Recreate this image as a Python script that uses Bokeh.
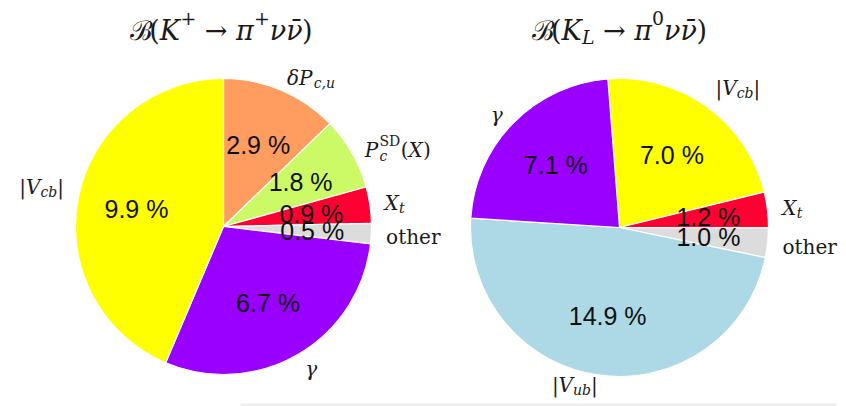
import math

from bokeh.core.properties import value
from bokeh.embed import file_html
from bokeh.models import Range1d
from bokeh.plotting import figure
from bokeh.resources import INLINE

# Error budget of the two rare kaon branching ratios (contributions in %)
kp_keys = ["dPcu", "PcSD", "Xt", "other", "gamma", "Vcb"]
kp_values = [2.9, 1.8, 0.9, 0.5, 6.7, 9.9]
kp_colors = ["#FF9C5F", "#CCFA66", "#FF0033", "#DCDCDC", "#9900FF", "#FFFF00"]

kl_keys = ["Vcb", "Xt", "other", "Vub", "gamma"]
kl_values = [7.0, 1.2, 1.0, 14.9, 7.1]
kl_colors = ["#FFFF00", "#FF0033", "#DCDCDC", "#ADD8E6", "#9900FF"]

W, H = 846, 406
SERIF = "DejaVu Serif"
SANS = "Liberation Sans"
IT, UP = "italic", "normal"
NB = "\u00a0"

# label pieces: (text, style, scale, baseline shift in em, advances)
LABEL_RUNS = {
    "dPcu": [("δ", IT, 1, 0, True), ("P", IT, 1, 0, True), ("c,u", IT, 0.7, -0.25, True)],
    "PcSD": [("P", IT, 1, 0, True), ("c", IT, 0.7, -0.3, False), ("SD", UP, 0.7, 0.45, True),
             ("(", UP, 1, 0, True), ("X", IT, 1, 0, True), (")", UP, 1, 0, True)],
    "Xt": [("X", IT, 1, 0, True), ("t", IT, 0.7, -0.25, True)],
    "other": [("other", UP, 1, 0, True)],
    "gamma": [("γ", IT, 1, 0, True)],
    "Vcb": [("|", UP, 1, 0, True), ("V", IT, 1, 0, True), ("cb", IT, 0.7, -0.25, True), ("|", UP, 1, 0, True)],
    "Vub": [("|", UP, 1, 0, True), ("V", IT, 1, 0, True), ("ub", IT, 0.7, -0.25, True), ("|", UP, 1, 0, True)],
}
# baseline offset below the label's anchor, in em
LABEL_DROP = {"dPcu": 0.05, "PcSD": 0.2, "Xt": 0.0, "other": 0.15, "gamma": 0.1,
              "Vcb": -0.35, "Vub": -0.25}

TITLE_KP = [("ℬ", UP, 1, 0, True), ("(", UP, 1, 0, True), ("K", IT, 1, 0, True), ("+", UP, 0.7, 0.45, True),
            (NB + "→" + NB, UP, 1, 0, True), ("π", IT, 1, 0, True), ("+", UP, 0.7, 0.45, True),
            ("νν\u0304", IT, 1, 0, True), (")", UP, 1, 0, True)]
TITLE_KL = [("ℬ", UP, 1, 0, True), ("(", UP, 1, 0, True), ("K", IT, 1, 0, True), ("L", IT, 0.7, -0.25, True),
            (NB + "→" + NB, UP, 1, 0, True), ("π", IT, 1, 0, True), ("0", UP, 0.7, 0.45, True),
            ("νν\u0304", IT, 1, 0, True), (")", UP, 1, 0, True)]

# approximate advance widths (em) of DejaVu Serif glyphs
CW = {"o": 0.602, "t": 0.402, "h": 0.644, "e": 0.592, "r": 0.478, "S": 0.685, "D": 0.83,
      "(": 0.39, ")": 0.39, "|": 0.337, "V": 0.722, "X": 0.722, "P": 0.733, "K": 0.765,
      "L": 0.653, "c": 0.56, "b": 0.64, "u": 0.644, "δ": 0.6, "γ": 0.6, ",": 0.318,
      "π": 0.66, "ν": 0.6, "→": 0.838, " ": 0.318, NB: 0.318, "+": 0.838, "0": 0.636,
      "ℬ": 0.7, "\u0304": 0.0}

p = figure(width=W, height=H, x_range=Range1d(0, W), y_range=Range1d(0, H),
           output_backend="svg", toolbar_location=None, min_border=0)
p.axis.visible = False
p.grid.visible = False
p.outline_line_color = None
p.background_fill_color = "white"
p.border_fill_color = "white"


def rich(x, y_center, runs, size, align, drop=0.3):
    widths = [sum(CW.get(ch, 0.6) for ch in t) * size * sc for t, st, sc, sh, adv in runs]
    total = sum(w for w, r in zip(widths, runs) if r[4])
    if align == "left":
        x0 = x
    elif align == "right":
        x0 = x - total
    else:
        x0 = x - total / 2
    base = y_center - drop * size
    for (t, st, sc, sh, adv), w in zip(runs, widths):
        p.text(x=[x0], y=[base + sh * size], text=[t], text_font=value(SERIF),
               text_font_style=st, text_font_size=f"{size * sc:.1f}px",
               text_baseline="alphabetic", text_align="left", text_color="#1a1a1a")
        if adv:
            x0 += w


def pie(cx, cy, r, values, colors, keys, start_deg):
    total = sum(values)
    a = math.radians(start_deg)
    starts, ends, mids = [], [], []
    for v in values:
        sweep = v / total * 2 * math.pi
        starts.append(a)
        ends.append(a - sweep)
        mids.append(a - sweep / 2)
        a -= sweep
    p.wedge(x=cx, y=cy, radius=r, start_angle=starts, end_angle=ends, direction="clock",
            fill_color=colors, line_color="white", line_width=1.2)
    for v, m, k in zip(values, mids, keys):
        px = cx + 0.6 * r * math.cos(m)
        py = cy + 0.6 * r * math.sin(m)
        p.text(x=[px], y=[py], text=[f"{v:.1f} %"], text_font=value(SANS),
               text_font_size="25px", text_align="center", text_baseline="middle",
               text_color="#111111")
        lx = cx + 1.1 * r * math.cos(m)
        ly = cy + 1.1 * r * math.sin(m)
        rich(lx, ly, LABEL_RUNS[k], 20, "left" if math.cos(m) > 0 else "right", LABEL_DROP[k])


pie(223, H - 226, 148, kp_values, kp_colors, kp_keys, 90.0)
pie(619, H - 227, 149, kl_values, kl_colors, kl_keys, 94.5)

rich(221, H - 22, TITLE_KP, 27, "center", 0.3)
rich(619, H - 22, TITLE_KL, 27, "center", 0.3)

# faint shadow along the lower edge
p.quad(left=240, right=836, bottom=0, top=3, fill_color="#ececec", line_color=None, fill_alpha=0.9)

open("out.html", "w").write(file_html(p, INLINE))
